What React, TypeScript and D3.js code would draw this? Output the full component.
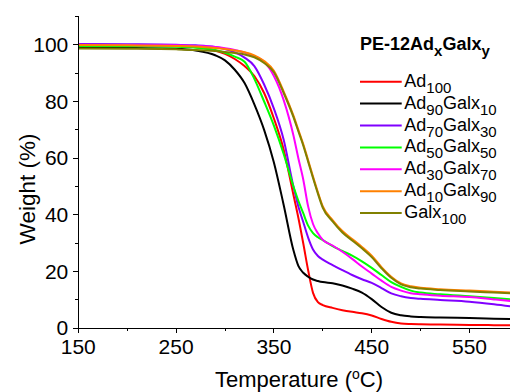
import React from "react";
import * as d3 from "d3";

// ---- data ----
const temps = [150, 200, 250, 270, 290, 300, 310, 320, 330, 340, 350, 360, 370, 375, 380, 385, 390, 395, 400, 410, 420, 430, 440, 450, 460, 470, 480, 490, 500, 520, 550, 575, 600];

const ad100 = [100, 99.9, 99.6, 99.2, 98, 96.8, 95, 92.5, 89, 83, 74, 63, 47, 39, 30, 20.5, 12.5, 9.2, 8.2, 7.2, 6.4, 5.8, 5.3, 4.5, 3.3, 2.3, 1.7, 1.5, 1.4, 1.3, 1.2, 1.1, 1.0];
const ad90galx10 = [99.0, 98.9, 98.6, 98.0, 96.3, 94.5, 91.2, 86.5, 79.0, 70, 58.5, 43.5, 27.5, 22, 19.6, 18.2, 17.2, 16.7, 16.3, 15.9, 15.1, 14, 12.6, 10.3, 7.5, 5.5, 4.6, 4.2, 4.0, 3.8, 3.6, 3.4, 3.2];
const ad70galx30 = [100.3, 100.2, 100, 99.8, 99.2, 98.5, 97.3, 95.5, 92.5, 86, 77.5, 66.5, 50, 43, 37.5, 32, 27.8, 25.5, 24.2, 22.3, 20.5, 18.8, 17.3, 16, 14.2, 12.3, 11.3, 10.7, 10.4, 10.0, 9.4, 8.5, 7.4];
const ad50galx50 = [99.6, 99.5, 99.3, 99, 98.2, 97.2, 95.8, 94, 88, 80, 71.5, 61.5, 50, 45, 40.6, 36.2, 33.6, 32.1, 31.1, 29, 27.3, 25.6, 23.6, 21.3, 18.8, 16.3, 14.6, 13.3, 12.6, 12, 11.3, 10.7, 10.0];
const ad30galx70 = [100, 99.9, 99.8, 99.6, 99.2, 98.8, 98.2, 97.3, 96, 94, 89, 80.5, 68, 60, 52.5, 43, 36.8, 33.5, 31.2, 29.2, 27, 24.5, 21.8, 19.3, 16.8, 14.6, 13.3, 12.4, 12.0, 11.5, 11, 10.2, 9.4];
const ad10galx90 = [99.9, 99.8, 99.6, 99.4, 98.9, 98.5, 98, 97.4, 96.3, 94.3, 90.8, 83.5, 75, 70, 65, 59.3, 53.5, 48, 43, 38.2, 34.3, 31.5, 28.7, 25.6, 21.6, 18.2, 15.8, 14.8, 14.3, 13.8, 13.3, 12.9, 12.5];
const galx100 = [98.7, 98.6, 98.4, 98.2, 97.8, 97.5, 97.1, 96.6, 95.6, 93.6, 90.3, 83, 74.5, 69.5, 64.5, 58.8, 53, 47.5, 42.5, 37.7, 33.8, 31, 28.2, 25.1, 21.2, 17.8, 15.5, 14.5, 14.0, 13.5, 13.0, 12.6, 12.2];

const seriesValues = [ad100, ad90galx10, ad70galx30, ad50galx50, ad30galx70, ad10galx90, galx100];
const seriesColors = ["#ff0000", "#000000", "#8000ff", "#00ff00", "#ff00ff", "#ff8000", "#808000"];
// label parts: [text, isSubscript]
const seriesLabels: [string, boolean][][] = [
  [["Ad", false], ["100", true]],
  [["Ad", false], ["90", true], ["Galx", false], ["10", true]],
  [["Ad", false], ["70", true], ["Galx", false], ["30", true]],
  [["Ad", false], ["50", true], ["Galx", false], ["50", true]],
  [["Ad", false], ["30", true], ["Galx", false], ["70", true]],
  [["Ad", false], ["10", true], ["Galx", false], ["90", true]],
  [["Galx", false], ["100", true]],
];

const xMajorTicks = [150, 250, 350, 450, 550];
const xMinorTicks = [200, 300, 400, 500, 600];
const yMajorTicks = [0, 20, 40, 60, 80, 100];
const yMinorTicks = [10, 30, 50, 70, 90, 110];

const W = 510;
const H = 392;
const FONT = "'Liberation Sans', Arial, sans-serif";

function LabelText({ parts, x, y, size, subSize, bold }: { parts: [string, boolean][]; x: number; y: number; size: number; subSize: number; bold?: boolean }) {
  let prevSub = false;
  return (
    <text x={x} y={y} fontSize={size} fontFamily={FONT} fontWeight={bold ? "bold" : "normal"} fill="#000">
      {parts.map(([t, sub], i) => {
        const dy = sub && !prevSub ? 6 : !sub && prevSub ? -6 : 0;
        prevSub = sub;
        return (
          <tspan key={i} dy={dy} fontSize={sub ? subSize : size}>
            {t}
          </tspan>
        );
      })}
    </text>
  );
}

export default function App() {
  const left = 78.3;
  const bottom = 328.3;
  const x = d3.scaleLinear().domain([150, 600]).range([left, left + 450 * 0.978]);
  const y = d3.scaleLinear().domain([0, 110]).range([bottom, bottom - 110 * 2.835]);

  const line = d3
    .line<number>()
    .x((_, i) => x(temps[i]))
    .y((d) => y(d))
    .curve(d3.curveMonotoneX);

  const legendX = 360;
  const legendY0 = 81.7;
  const legendDy = 21.9;

  return (
    <svg width={W} height={H} style={{ position: "absolute", left: 0, top: 0, background: "#fff" }}>
      <defs>
        <clipPath id="plotClip">
          <rect x={left} y={0} width={W - left} height={bottom + 1} />
        </clipPath>
      </defs>

      {/* curves */}
      <g clipPath="url(#plotClip)">
        {seriesValues.map((vals, i) => (
          <path key={i} d={line(vals) || ""} fill="none" stroke={seriesColors[i]} strokeWidth={2} strokeLinejoin="round" />
        ))}
      </g>

      {/* axes */}
      <g stroke="#000" strokeWidth={1} shapeRendering="crispEdges">
        <line x1={left} x2={left} y1={y(110)} y2={bottom} />
        <line x1={left} x2={W} y1={bottom} y2={bottom} />
        {xMajorTicks.map((t) => (
          <line key={"xM" + t} x1={x(t)} x2={x(t)} y1={bottom} y2={bottom + 5} />
        ))}
        {xMinorTicks.map((t) => (
          <line key={"xm" + t} x1={x(t)} x2={x(t)} y1={bottom} y2={bottom + 3} />
        ))}
        {yMajorTicks.map((t) => (
          <line key={"yM" + t} x1={left - 5} x2={left} y1={y(t)} y2={y(t)} />
        ))}
        {yMinorTicks.map((t) => (
          <line key={"ym" + t} x1={left - 3} x2={left} y1={y(t)} y2={y(t)} />
        ))}
      </g>

      {xMajorTicks.map((t) => (
        <text key={"xl" + t} x={x(t)} y={bottom + 26} fontSize={21} fontFamily={FONT} textAnchor="middle" fill="#000">
          {t}
        </text>
      ))}
      {yMajorTicks.map((t) => (
        <text key={"yl" + t} x={left - 10} y={y(t) + 7} fontSize={21} fontFamily={FONT} textAnchor="end" fill="#000">
          {t}
        </text>
      ))}

      {/* axis titles */}
      <text x={299} y={386.5} fontSize={22} fontFamily={FONT} textAnchor="middle" fill="#000">
        Temperature (<tspan dy={-8} fontSize={14}>o</tspan>
        <tspan dy={8}>C)</tspan>
      </text>
      <text transform="translate(35,189) rotate(-90)" fontSize={22.5} fontFamily={FONT} textAnchor="middle" fill="#000">
        Weight (%)
      </text>

      {/* legend */}
      <LabelText
        parts={[["PE-12Ad", false], ["x", true], ["Galx", false], ["y", true]]}
        x={legendX}
        y={50}
        size={18}
        subSize={15}
        bold
      />
      {seriesLabels.map((parts, i) => {
        const ly = legendY0 + i * legendDy;
        return (
          <g key={"lg" + i}>
            <line x1={legendX} x2={legendX + 41.7} y1={ly} y2={ly} stroke={seriesColors[i]} strokeWidth={2} />
            <LabelText parts={parts} x={legendX + 44.3} y={ly + 5} size={18} subSize={15} />
          </g>
        );
      })}
    </svg>
  );
}
